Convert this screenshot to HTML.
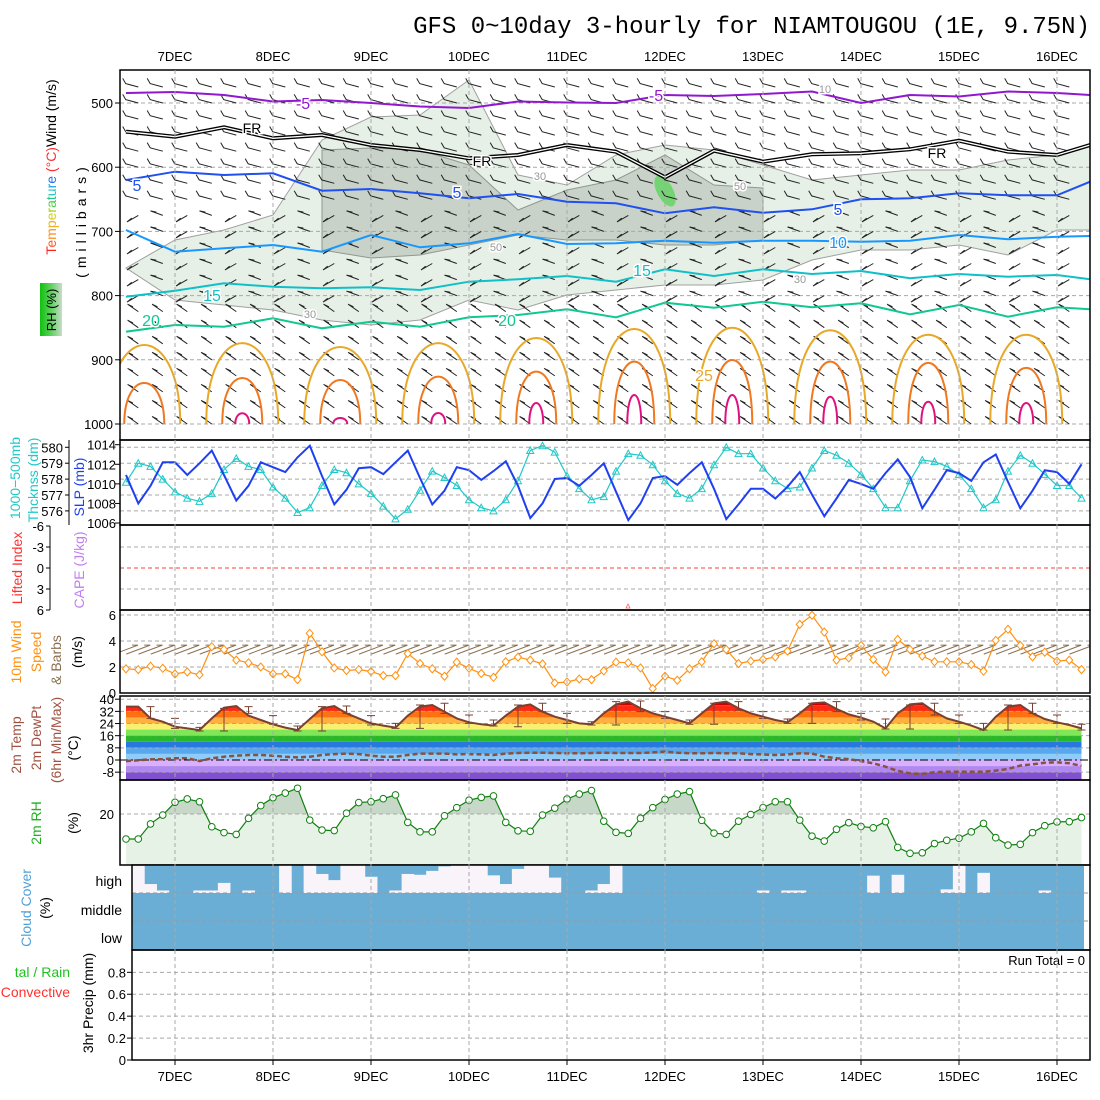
<!DOCTYPE html>
<html><head><meta charset="utf-8">
<style>
body{margin:0;background:#fff}
svg{display:block}
text{font-family:"Liberation Sans",sans-serif}
text.mono{font-family:"Liberation Mono",monospace}
</style></head>
<body>
<svg id="chart" width="1100" height="1100" xmlns="http://www.w3.org/2000/svg"></svg>
<script>
// ---------- DATA ----------
const dayLabels=["7DEC","8DEC","9DEC","10DEC","11DEC","12DEC","13DEC","14DEC","15DEC","16DEC"];
const slp=[1010.9,1008.0,1009.8,1012.2,1012.2,1010.9,1012.1,1013.4,1010.9,1008.3,1009.8,1012.2,1011.7,1011.2,1012.7,1013.9,1010.8,1007.9,1009.4,1011.6,1011.7,1011.0,1012.2,1013.4,1010.6,1007.9,1009.3,1011.7,1011.4,1010.4,1011.3,1012.3,1009.8,1006.5,1008.0,1010.5,1010.6,1009.8,1010.9,1012.1,1009.2,1006.3,1008.0,1010.6,1010.8,1009.9,1011.1,1012.2,1009.5,1006.4,1007.9,1009.5,1009.5,1008.5,1009.7,1011.2,1008.9,1006.7,1008.5,1010.4,1010.0,1009.5,1011.1,1012.5,1010.7,1007.5,1009.4,1011.4,1011.1,1010.3,1012.2,1013.0,1010.2,1007.5,1009.3,1011.4,1011.2,1010.0,1012.0];
const thick=[577.8,579.0,578.8,578.0,577.2,576.8,576.6,577.1,578.6,579.3,578.8,578.6,577.5,576.8,575.9,576.2,577.6,578.6,578.4,577.7,577.1,576.3,575.5,576.1,577.3,578.5,578.1,577.6,576.7,576.2,576.0,576.7,577.9,579.8,580.1,579.7,578.2,577.4,576.7,576.9,578.5,579.6,579.5,578.9,577.9,577.1,576.8,577.4,578.9,580.0,579.6,579.6,578.7,577.9,577.4,577.5,578.7,579.8,579.5,579.0,578.3,577.4,576.2,576.2,577.9,579.2,579.1,578.8,578.3,577.4,576.2,576.7,578.5,579.5,579.0,578.3,577.6,577.6,576.8];
const windSpd=[1.86,1.8,2.06,1.9,1.47,1.62,1.4,3.56,3.35,2.53,2.32,2.0,1.47,1.47,1.03,4.59,3.17,1.93,1.73,1.8,1.65,1.34,1.34,3.04,2.27,1.86,1.29,2.37,1.9,1.5,1.21,2.4,2.76,2.53,2.24,0.77,0.85,1.08,1.03,1.7,2.37,2.32,1.93,0.34,1.29,0.98,1.86,2.4,3.79,3.35,2.27,2.45,2.58,2.78,3.22,5.28,5.98,4.69,2.53,2.7,3.66,2.58,1.62,4.12,3.35,2.84,2.4,2.4,2.4,2.19,1.68,4.05,4.9,3.66,2.78,3.14,2.45,2.53,1.8];
const temp2m=[35.1,35.1,27.4,25.2,21.9,20.8,19.7,27.4,34.4,35.5,29.2,26.3,23.5,21.3,19.7,27.0,34.0,35.5,30.7,27.4,24.1,22.6,21.3,29.2,35.1,36.2,31.8,27.4,24.8,23.5,22.6,29.2,35.1,36.6,31.8,28.5,26.3,24.1,23.5,30.7,36.6,38.4,34.0,30.7,28.5,26.3,24.1,30.7,37.3,38.4,34.0,30.7,28.5,26.3,24.8,30.7,37.3,37.9,33.6,30.0,27.9,25.2,20.8,30.7,36.6,37.3,31.8,27.4,25.2,22.6,19.7,28.5,35.1,36.2,30.7,27.0,24.8,23.0,20.8];
const dew2m=[-0.7,-0.2,0.4,0.6,1.1,1.1,-0.7,1.1,2.2,2.8,3.3,3.3,2.8,2.2,1.7,2.2,3.3,3.9,4.2,3.9,2.8,2.2,2.2,3.3,4.2,4.2,4.2,3.7,3.9,3.7,3.3,4.2,4.6,4.8,4.8,4.6,4.4,4.4,4.6,4.8,4.6,4.6,4.6,5.0,5.5,4.8,4.4,4.4,4.6,4.4,4.4,3.9,3.7,3.3,3.7,4.4,4.2,2.2,1.1,0.6,-0.7,-2.2,-4.4,-7.2,-8.8,-9.2,-8.1,-7.7,-7.7,-7.7,-7.7,-7.0,-5.9,-3.7,-2.8,-1.8,-1.5,-2.2,-3.9];
const tMax=[35.1,27.4,21.5,34.0,35.1,29.2,22.4,35.1,35.5,29.2,24.1,36.2,37.3,29.6,26.3,36.2,37.3,30.7,25.2,38.4,38.8,31.8,26.3,37.3,38.4,31.8,27.0,37.3,38.4,30.7,27.0,36.2,37.3,29.6,24.1,36.2,37.3,29.6,23.5];
const tMin=[27.4,20.8,19.1,19.1,30.7,23.5,19.1,19.1,30.7,23.0,20.8,20.8,30.7,24.1,22.4,21.9,31.8,24.1,23.0,23.0,31.8,27.4,23.5,23.5,32.9,27.4,24.1,24.1,31.8,26.3,20.4,20.4,29.6,24.1,19.7,19.7,30.7,24.1,19.7];
const rh2m=[10.2,10.2,16.1,19.6,24.6,25.9,24.8,15.0,12.7,12.0,18.3,23.3,26.4,28.2,30.1,17.6,13.7,13.5,20.3,24.5,24.8,26.0,27.5,16.7,13.0,13.0,19.3,22.5,25.4,26.5,27.1,16.7,13.4,13.2,19.6,22.3,25.9,27.8,29.2,17.2,12.8,12.4,18.3,22.5,25.7,27.8,28.8,17.5,12.5,12.0,17.2,19.8,22.5,24.8,24.8,17.6,11.3,9.4,14.0,16.6,15.1,14.6,17.0,6.9,4.6,4.8,8.4,9.7,10.5,13.0,16.3,10.7,7.8,8.1,12.7,15.4,16.9,17.0,18.6];
const highCloud=[3,68,91,100,100,91,91,64,100,91,100,100,0,100,0,32,54,0,0,42,100,91,32,35,21,5,0,0,0,37,68,14,0,0,45,100,100,91,68,0,100,100,100,100,100,100,100,100,100,100,100,91,100,91,91,100,100,100,100,100,38,100,35,100,100,100,87,0,100,28,100,100,100,100,91,100,100,100];
const contourT=[0,4,8,12,16,20,24,28,32,36,40,44,48,52,56,60,64,68,72,76,78.7];
const isoM5=[484.4,482.9,487.5,497.7,495.3,500,505.5,507.8,497.7,499.2,500,487.5,489.1,486.0,482.1,500,487.5,489.9,482.1,484.4,487.5];
const isoFR=[544.7,552.5,537.8,555.0,549.8,565.4,573.2,586.1,581.0,565.4,575.9,615.7,574.3,591.4,579.9,578.3,572.1,558.7,575.9,581.0,565.4];
const iso5=[619.9,607.0,612.1,609.5,636.6,634.0,640.7,648.4,641.7,653.7,656.2,671.8,662.5,670.9,665.6,650.0,648.4,640.7,643.8,643.8,622.6];
const iso10=[697.8,731.6,726.3,721.2,731.6,705.6,724.8,718.5,704.0,719.6,718.5,714.5,717.6,714.5,714.5,716.0,714.5,705.6,712.3,708.3,707.2];
const iso15=[801.7,792.4,780.8,786.1,788.6,787.1,791.3,778.3,774.6,769.5,778.3,759.0,769.5,759.0,766.4,761.7,773.0,766.4,770.6,767.9,774.6];
const iso20=[856.2,845.8,848.4,835.4,851.0,840.6,848.4,833.8,830.2,821.3,833.8,811.1,818.8,809.5,818.2,812.0,829.1,814.6,832.9,818.2,821.3];
const rhLightTop=[757.0,713.4,697.8,674.5,557.6,521.8,518.7,464.2,612.1,627.7,581.0,565.4,573.2,596.6,619.9,612.1,604.4,604.4,588.8,581.0,565.4];
const rhLightBot=[757.0,806.8,814.6,822.4,838.0,845.8,838.0,806.8,822.4,799.1,791.3,783.5,783.5,775.7,744.5,729.0,729.0,721.2,736.8,697.8,697.8];
const rhDarkTop=[null,null,null,null,573.2,570.1,573.2,596.6,666.7,635.5,619.9,581.0,627.7,632.4,null,null,null,null,null,null,null];
const rhDarkBot=[null,null,null,null,729.0,741.4,736.8,721.2,705.6,713.4,713.4,721.2,721.2,713.4,null,null,null,null,null,null,null];
const arch25=[877,874,880,874,866,852,850,854,861,861];
const arch30=[936.1,928.3,931.4,926.2,918.4,902.8,900.2,902.8,904.8,912.6];
const arch35=[1030,983.3,990.6,982.8,967.3,954.8,954.8,957.5,965.3,967.3];

// ---------- HELPERS ----------
const NS='http://www.w3.org/2000/svg';
const svg=document.getElementById('chart');
function el(tag,attrs,parent){const e=document.createElementNS(NS,tag);for(const k in attrs)e.setAttribute(k,attrs[k]);(parent||svg).appendChild(e);return e;}
function tx(str,x,y,attrs,parent){const e=el('text',Object.assign({x:x,y:y},attrs||{}),parent);e.textContent=str;return e;}
const xOf=i=>126+12.25*i;
const pY=p=>103+(p-500)*0.642;
const ySLP=v=>444.7+(1014-v)*9.79;
const yTh=v=>447.3+(580-v)*15.9;
const yLI=v=>568+v*7.0;
const yWS=v=>693-13*v;
const yT=v=>760-1.52*v;
const yRH=v=>865-2.55*v;
const yPr=v=>1060-109.6*v;
const pts=(arr,fy)=>arr.map((v,i)=>xOf(i).toFixed(1)+','+fy(v).toFixed(1)).join(' ');
const cpts=(arr)=>arr.map((p,k)=>xOf(contourT[k]).toFixed(1)+','+pY(p).toFixed(1)).join(' ');
const GRID='#a8a8a8';
const defs=el('defs',{});
function clip(id,x,y,w,h){const c=el('clipPath',{id:id},defs);el('rect',{x:x,y:y,width:w,height:h},c);}
clip('c1',120,70,970,370);clip('c2',120,440,970,85);clip('c4',120,610,970,83);clip('c5',120,696,970,84);clip('c6',120,780,970,85);clip('c7',132,865,958,85);

// ---------- TITLE ----------
let t=tx('GFS 0~10day 3-hourly for NIAMTOUGOU (1E, 9.75N)',1090,33,{'text-anchor':'end','class':'mono','font-size':'24','fill':'#000'});



dayLabels.forEach((d,k)=>{
  const x=xOf(4+8*k);
  let a=tx(d,x,61,{'text-anchor':'middle','font-size':'13'});
  
  
  let b=tx(d,x,1081,{'text-anchor':'middle','font-size':'13'});
  
  
});

// ---------- PANEL 1 ----------
const g1=el('g',{'clip-path':'url(#c1)'});


let lp=rhLightTop.map((p,k)=>xOf(contourT[k]).toFixed(1)+','+pY(p).toFixed(1));
for(let k=rhLightBot.length-1;k>=0;k--)lp.push(xOf(contourT[k]).toFixed(1)+','+pY(rhLightBot[k]).toFixed(1));
let rl=el('polygon',{points:lp.join(' '),fill:'#e6f0e6',stroke:'#a0a0a0','stroke-width':'1'},g1);


let dp=[],db=[];
rhDarkTop.forEach((p,k)=>{if(p!==null){dp.push(xOf(contourT[k]).toFixed(1)+','+pY(p).toFixed(1));db.unshift(xOf(contourT[k]).toFixed(1)+','+pY(rhDarkBot[k]).toFixed(1));}});
let rd=el('polygon',{points:dp.concat(db).join(' '),fill:'#c8d2c8',stroke:'#909890','stroke-width':'1'},g1);


let blob=el('ellipse',{cx:665,cy:191,rx:8,ry:17,transform:'rotate(-28 665 191)',fill:'#74d474'},g1);


[500,600,700,800,900,1000].forEach(p=>{let l=el('line',{x1:120,x2:1090,y1:pY(p),y2:pY(p),stroke:GRID,'stroke-dasharray':'4,3'},g1);});
for(let i=1;i<79;i+=2){
  for(let p=475;p<=1000;p+=25){
    const x=xOf(i),y=pY(p);
    let ang=p<=650?195:(p<=800?(i%4==1?150:200):215);
    const a=ang*Math.PI/180,L=13;
    const x2=x+L*Math.cos(a),y2=y+L*Math.sin(a);
    const ta=a+(p<=650?-1.1:1.1);
    let b=el('path',{d:`M${x.toFixed(1)},${y.toFixed(1)}L${x2.toFixed(1)},${y2.toFixed(1)}L${(x2+6*Math.cos(ta+Math.PI*0.6)).toFixed(1)},${(y2+6*Math.sin(ta+Math.PI*0.6)).toFixed(1)}`,fill:'none',stroke:'#222','stroke-width':'1'},g1);
    
    
  }
}
function arch(arr,hw,col,name){
  arr.forEach((p,d)=>{
    if(p>=1000)return;
    const cx=xOf(1+8*d)+6,yt=pY(p),yb=424,yc=(yt-0.25*yb)/0.75;
    let a=el('path',{d:`M${cx-hw},${yb}C${cx-hw},${yc.toFixed(1)} ${cx+hw},${yc.toFixed(1)} ${cx+hw},${yb}`,fill:'none',stroke:col,'stroke-width':'2'},g1);
    
    
  });
}
arch(arch25,36,'#e8a828','isotherm-25');
arch(arch30,20,'#f07820','isotherm-30');
arch(arch35,7,'#e01080','isotherm-35');
function iso(arr,col,name,w){let l=el('polyline',{points:cpts(arr),fill:'none',stroke:col,'stroke-width':w||2},g1);return l;}
iso(isoM5,'#9018d0','isotherm-minus5');
iso(isoFR,'#000','freezing-line',4);
iso(isoFR,'#fff','freezing-line-inner',1.3);
iso(iso5,'#2050f0','isotherm-5');
iso(iso10,'#1898ff','isotherm-10');
iso(iso15,'#10c0c8','isotherm-15');
iso(iso20,'#10c890','isotherm-20');
function lab(s,x,y,col,fs,name){let b=tx(s,x,y,{'font-size':fs||16,fill:col,'text-anchor':'middle',stroke:'#fff','stroke-width':'3','paint-order':'stroke'},g1);}
lab('-5',303,109,'#9018d0',16,'isotherm-label');lab('-5',656,101,'#9018d0',16,'isotherm-label');
lab('FR',252,133,'#000',14,'freezing-label');lab('FR',482,166,'#000',14,'freezing-label');lab('FR',937,158,'#000',14,'freezing-label');
lab('5',137,191,'#2050f0',16,'isotherm-label');lab('5',457,198,'#2050f0',16,'isotherm-label');lab('5',838,215,'#2050f0',16,'isotherm-label');
lab('10',838,248,'#1898ff',16,'isotherm-label');
lab('15',212,301,'#10c0c8',16,'isotherm-label');lab('15',642,276,'#10c0c8',16,'isotherm-label');
lab('20',151,326,'#10c890',16,'isotherm-label');lab('20',507,326,'#10c890',16,'isotherm-label');
lab('25',704,381,'#e8a828',16,'isotherm-label');
lab('10',825,93,'#999',11,'rh-label');lab('30',540,180,'#999',11,'rh-label');lab('50',740,190,'#999',11,'rh-label');lab('30',800,283,'#999',11,'rh-label');lab('50',496,251,'#999',11,'rh-label');lab('30',310,318,'#999',11,'rh-label');
let f1=el('rect',{x:120,y:70,width:970,height:370,fill:'none',stroke:'#000','stroke-width':'1.5'});


[500,600,700,800,900,1000].forEach(p=>{
  let l=el('line',{x1:115,x2:120,y1:pY(p),y2:pY(p),stroke:'#000'});
  
  
  let a=tx(String(p),113,pY(p)+5,{'text-anchor':'end','font-size':'13'});
  
  
});
let tt=tx('',0,0,{transform:'translate(56,167) rotate(-90)','text-anchor':'middle','font-size':'14'});


const tcols=['#ff2020','#ff5a20','#ff8c20','#f0b020','#d0d020','#a0d020','#50d040','#20c880','#20c0c0','#20a0e0','#2070f0'];
'Temperature'.split('').forEach((c,i)=>{const s=el('tspan',{fill:tcols[i]},tt);s.textContent=c;});
let s1=el('tspan',{fill:'#ff3030'},tt);s1.textContent=' (°C)';
let s2=el('tspan',{fill:'#000'},tt);s2.textContent='Wind (m/s)';
let mb=tx('(millibars)',0,0,{transform:'translate(86,220) rotate(-90)','text-anchor':'middle','font-size':'14','letter-spacing':'5'});


const grad=el('linearGradient',{id:'rhg',x1:0,x2:1,y1:0,y2:0},defs);
el('stop',{offset:'0',"stop-color":'#10c010'},grad);el('stop',{offset:'0.5',"stop-color":'#60d060'},grad);el('stop',{offset:'1',"stop-color":'#c8dcc8'},grad);
let rb=el('rect',{x:40,y:283,width:22,height:53,fill:'url(#rhg)'});


let rt=tx('RH (%)',0,0,{transform:'translate(56,310) rotate(-90)','text-anchor':'middle','font-size':'13'});



// ---------- PANEL 2 ----------
[580,579,578,577,576].forEach(v=>{let l=el('line',{x1:120,x2:1090,y1:yTh(v),y2:yTh(v),stroke:GRID,'stroke-dasharray':'4,3'});});
const g2=el('g',{'clip-path':'url(#c2)'});
let th=el('polyline',{points:pts(thick,yTh),fill:'none',stroke:'#20c8c8','stroke-width':'1.2'},g2);


thick.forEach((v,i)=>{const x=xOf(i),y=yTh(v);let m=el('path',{d:`M${x-3.5},${y+3}L${x},${y-3.5}L${x+3.5},${y+3}Z`,fill:'none',stroke:'#20c8c8'},g2);});
let sl=el('polyline',{points:pts(slp,ySLP),fill:'none',stroke:'#2040f0','stroke-width':'2'},g2);


let f2=el('rect',{x:120,y:440,width:970,height:85,fill:'none',stroke:'#000','stroke-width':'1.5'});


let ax2=el('line',{x1:69,x2:69,y1:440,y2:525,stroke:'#000'});


[580,579,578,577,576].forEach(v=>{let l=el('line',{x1:65,x2:69,y1:yTh(v),y2:yTh(v),stroke:'#000'});let a=tx(String(v),63,yTh(v)+5,{'text-anchor':'end','font-size':'13'});});
[1014,1012,1010,1008,1006].forEach(v=>{let l=el('line',{x1:115,x2:120,y1:ySLP(v),y2:ySLP(v),stroke:'#000'});let a=tx(String(v),116,ySLP(v)+5,{'text-anchor':'end','font-size':'13'});});
let q=tx('1000−500mb',0,0,{transform:'translate(20,478) rotate(-90)','text-anchor':'middle','font-size':'14',fill:'#20c8c8'});
q=tx('Thcknss (dm)',0,0,{transform:'translate(38,480) rotate(-90)','text-anchor':'middle','font-size':'14',fill:'#20c8c8'});
q=tx('SLP (mb)',0,0,{transform:'translate(84,487) rotate(-90)','text-anchor':'middle','font-size':'14',fill:'#2040f0'});

// ---------- PANEL 3 ----------
[-3,3].forEach(v=>{let l=el('line',{x1:120,x2:1090,y1:yLI(v),y2:yLI(v),stroke:GRID,'stroke-dasharray':'4,3'});});
let z=el('line',{x1:120,x2:1090,y1:yLI(0),y2:yLI(0),stroke:'#ff4040','stroke-dasharray':'4,3'});


let f3=el('rect',{x:120,y:525,width:970,height:85,fill:'none',stroke:'#000','stroke-width':'1.5'});


let ax3=el('line',{x1:50,x2:50,y1:526,y2:610,stroke:'#000'});


[-6,-3,0,3,6].forEach(v=>{let l=el('line',{x1:46,x2:50,y1:yLI(v),y2:yLI(v),stroke:'#000'});let a=tx(String(v),44,yLI(v)+5,{'text-anchor':'end','font-size':'13'});});
let cm=el('path',{d:'M626,608L628,604L630,608Z',fill:'none',stroke:'#ff6060','stroke-width':'0.8'});


q=tx('Lifted Index',0,0,{transform:'translate(22,568) rotate(-90)','text-anchor':'middle','font-size':'14',fill:'#ff3030'});
q=tx('CAPE (J/kg)',0,0,{transform:'translate(84,570) rotate(-90)','text-anchor':'middle','font-size':'14',fill:'#c080f0'});

// ---------- PANEL 4 ----------
[2,4,6].forEach(v=>{let l=el('line',{x1:120,x2:1090,y1:yWS(v),y2:yWS(v),stroke:GRID,'stroke-dasharray':'4,3'});});
const g4=el('g',{'clip-path':'url(#c4)'});
windSpd.forEach((v,i)=>{
  const x=xOf(i),y=yWS(3.3);
  let b=el('path',{d:`M${x-12},${y+4}L${x+12},${y-5}M${x+12},${y-5}L${x+6},${y-5}`,fill:'none',stroke:'#8a7050','stroke-width':'1'},g4);
  
  
});
let ws=el('polyline',{points:pts(windSpd,yWS),fill:'none',stroke:'#ff9010','stroke-width':'1.2'},g4);


windSpd.forEach((v,i)=>{const x=xOf(i),y=yWS(v);let m=el('path',{d:`M${x-3.5},${y}L${x},${y-4}L${x+3.5},${y}L${x},${y+4}Z`,fill:'#fff',stroke:'#ff9010'},g4);});
let f4=el('rect',{x:120,y:610,width:970,height:83,fill:'none',stroke:'#000','stroke-width':'1.5'});


[0,2,4,6].forEach(v=>{let a=tx(String(v),116,yWS(v)+5,{'text-anchor':'end','font-size':'13'});});
q=tx('10m Wind',0,0,{transform:'translate(21,652) rotate(-90)','text-anchor':'middle','font-size':'14',fill:'#ff9010'});
q=tx('Speed',0,0,{transform:'translate(41,652) rotate(-90)','text-anchor':'middle','font-size':'14',fill:'#ff9010'});
q=tx('& Barbs',0,0,{transform:'translate(61,660) rotate(-90)','text-anchor':'middle','font-size':'14',fill:'#8a7050'});
q=tx('(m/s)',0,0,{transform:'translate(82,652) rotate(-90)','text-anchor':'middle','font-size':'14'});

// ---------- PANEL 5 ----------
const g5=el('g',{'clip-path':'url(#c5)'});
const tcp=el('clipPath',{id:'tfill'},defs);
el('polygon',{points:xOf(0)+',780 '+pts(temp2m,yT)+' '+xOf(78)+',780'},tcp);
const bandEdges=[40,36,32,28,24,20,16,12,8,4,0,-4,-8,-14];
const bandCols=['#d00000','#ff2810','#ff7010','#ffb040','#f8f070','#80e858','#28b828','#2878e0','#58a8f0','#90ccf8','#d8b0ff','#b088f0','#8050d0'];
const gb=el('g',{'clip-path':'url(#tfill)'},g5);
bandCols.forEach((c,k)=>{let r=el('rect',{x:xOf(0),y:yT(bandEdges[k]),width:xOf(78)-xOf(0),height:yT(bandEdges[k+1])-yT(bandEdges[k]),fill:c},gb);});
[40,32,24,16,8,-8].forEach(v=>{let l=el('line',{x1:120,x2:1090,y1:yT(v),y2:yT(v),stroke:GRID,'stroke-dasharray':'4,3'},g5);});
let zl=el('line',{x1:120,x2:1090,y1:yT(0),y2:yT(0),stroke:'#000','stroke-dasharray':'8,3,2,3'},g5);


tMax.forEach((v,j)=>{const i=2+2*j,x=xOf(i);let e=el('path',{d:`M${x},${yT(v)}L${x},${yT(tMin[j])}M${x-4},${yT(v)}L${x+4},${yT(v)}M${x-4},${yT(tMin[j])}L${x+4},${yT(tMin[j])}`,stroke:'#7a4030','stroke-width':'1',fill:'none'},g5);});
let tl=el('polyline',{points:pts(temp2m,yT),fill:'none',stroke:'#7a4030','stroke-width':'2'},g5);


let dl=el('polyline',{points:pts(dew2m,yT),fill:'none',stroke:'#8a5040','stroke-width':'2.5','stroke-dasharray':'5,3'},g5);


let f5=el('rect',{x:120,y:696,width:970,height:84,fill:'none',stroke:'#000','stroke-width':'1.5'});


[40,32,24,16,8,0,-8].forEach(v=>{let l=el('line',{x1:115,x2:120,y1:yT(v),y2:yT(v),stroke:'#000'});let a=tx(String(v),114,yT(v)+5,{'text-anchor':'end','font-size':'13'});});
q=tx('2m Temp',0,0,{transform:'translate(21,745) rotate(-90)','text-anchor':'middle','font-size':'14',fill:'#a05040'});
q=tx('2m DewPt',0,0,{transform:'translate(41,738) rotate(-90)','text-anchor':'middle','font-size':'14',fill:'#a05040'});
q=tx('(6hr Min/Max)',0,0,{transform:'translate(61,740) rotate(-90)','text-anchor':'middle','font-size':'14',fill:'#a05040'});
q=tx('(°C)',0,0,{transform:'translate(78,748) rotate(-90)','text-anchor':'middle','font-size':'14'});

// ---------- PANEL 6 ----------
const g6=el('g',{'clip-path':'url(#c6)'});
const rhPoly=xOf(0)+',865 '+pts(rh2m,yRH)+' '+xOf(78)+',865';
let rf=el('polygon',{points:rhPoly,fill:'#e6f2e6'},g6);


const hcp=el('clipPath',{id:'rhHigh'},defs);el('rect',{x:120,y:780,width:970,height:yRH(20)-780},hcp);
let rf2=el('polygon',{points:rhPoly,fill:'#c8d8c8','clip-path':'url(#rhHigh)'},g6);


let rg=el('line',{x1:120,x2:1090,y1:yRH(20),y2:yRH(20),stroke:GRID,'stroke-dasharray':'4,3'},g6);


let rl2=el('polyline',{points:pts(rh2m,yRH),fill:'none',stroke:'#108010','stroke-width':'1.2'},g6);


rh2m.forEach((v,i)=>{let c=el('circle',{cx:xOf(i),cy:yRH(v),r:3.3,fill:'#fff',stroke:'#108010'},g6);});
let f6=el('rect',{x:120,y:780,width:970,height:85,fill:'none',stroke:'#000','stroke-width':'1.5'});


q=tx('20',114,yRH(20)+5,{'text-anchor':'end','font-size':'13'});
q=tx('2m RH',0,0,{transform:'translate(41,823) rotate(-90)','text-anchor':'middle','font-size':'14',fill:'#20b020'});
q=tx('(%)',0,0,{transform:'translate(78,823) rotate(-90)','text-anchor':'middle','font-size':'14'});

// ---------- PANEL 7 ----------
const g7=el('g',{'clip-path':'url(#c7)'});
let cb=el('rect',{x:132,y:865,width:952,height:85,fill:'#6aaed6'},g7);


highCloud.forEach((c,k)=>{
  const h=28*(100-c)/100;if(h<=0)return;
  const x0=xOf(k+0.5);
  let r=el('rect',{x:x0,y:893-h,width:12.6,height:h,fill:'#f8f4fa'},g7);
  
  
});
[893,921].forEach(y=>{let l=el('line',{x1:132,x2:1090,y1:y,y2:y,stroke:'#999','stroke-dasharray':'4,3'},g7);});
let f7=el('rect',{x:132,y:865,width:958,height:85,fill:'none',stroke:'#000','stroke-width':'1.5'});


[['high',880],['middle',909],['low',937]].forEach(a=>{let b=tx(a[0],122,a[1]+6,{'text-anchor':'end','font-size':'14'});});
q=tx('Cloud Cover',0,0,{transform:'translate(31,908) rotate(-90)','text-anchor':'middle','font-size':'14',fill:'#50a0d8'});
q=tx('(%)',0,0,{transform:'translate(50,908) rotate(-90)','text-anchor':'middle','font-size':'14'});

// ---------- PANEL 8 ----------
[0.2,0.4,0.6,0.8].forEach(v=>{let l=el('line',{x1:132,x2:1090,y1:yPr(v),y2:yPr(v),stroke:GRID,'stroke-dasharray':'4,3'});});
let f8=el('rect',{x:132,y:950,width:958,height:110,fill:'none',stroke:'#000','stroke-width':'1.5'});


[0,0.2,0.4,0.6,0.8].forEach(v=>{let l=el('line',{x1:127,x2:132,y1:yPr(v),y2:yPr(v),stroke:'#000'});let a=tx(v===0?'0':String(v),126,yPr(v)+5,{'text-anchor':'end','font-size':'13'});});
q=tx('Run Total = 0',1085,965,{'text-anchor':'end','font-size':'13'});
q=tx('tal / Rain',70,977,{'text-anchor':'end','font-size':'14',fill:'#20c020'});
q=tx('Convective',70,997,{'text-anchor':'end','font-size':'14',fill:'#ff3030'});
q=tx('3hr Precip (mm)',0,0,{transform:'translate(93,1003) rotate(-90)','text-anchor':'middle','font-size':'14'});

// ---------- day gridlines ----------
dayLabels.forEach((d,k)=>{
  const x=xOf(4+8*k);
  [[70,440],[440,525],[525,610],[610,693],[696,780],[780,865],[865,950],[950,1060]].forEach(r=>{
    let l=el('line',{x1:x,x2:x,y1:r[0],y2:r[1],stroke:GRID,'stroke-dasharray':'4,3'});
    
    
  });
  let tk=el('line',{x1:x,x2:x,y1:1060,y2:1065,stroke:'#000'});
  
  
});
</script>
</body></html>
